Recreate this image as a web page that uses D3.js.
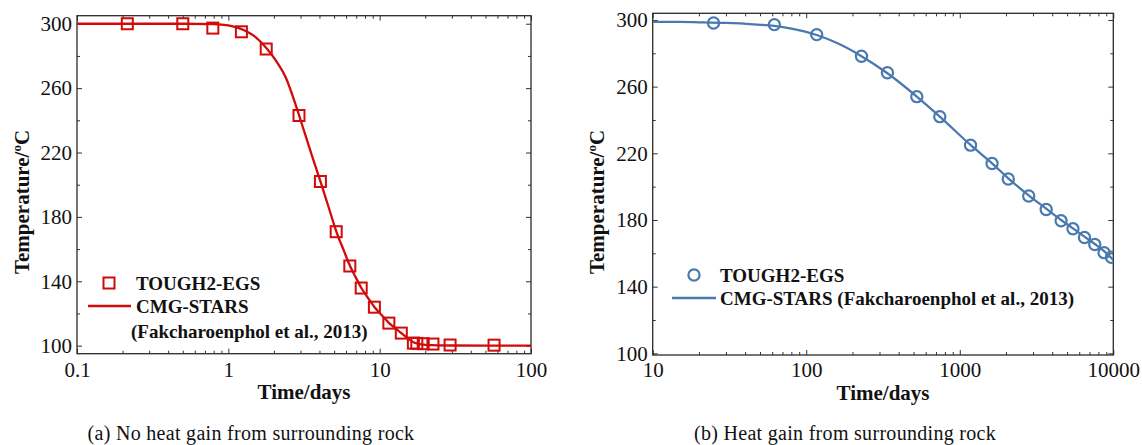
<!DOCTYPE html>
<html>
<head>
<meta charset="utf-8">
<script src="https://cdn.jsdelivr.net/npm/d3@7"></script>
<style>
  html, body { margin: 0; padding: 0; background: #fff; }
  svg { display: block; }
  svg text { font-family: "Liberation Serif", "Times New Roman", serif; fill: #111; }
</style>
</head>
<body>
<svg id="chart" width="1142" height="445"></svg>
<script>
// ---------- Panel (a): No heat gain from surrounding rock ----------
const aToughTime = [0.215, 0.5, 0.79, 1.22, 1.78, 2.93, 4.06, 5.16, 6.35, 7.55, 9.23, 11.5, 13.9, 16.7, 17.6, 19.4, 22.5, 29.2, 57];
const aToughTemp = [300, 300, 297.3, 295, 284.3, 243, 202, 170.8, 149.5, 135.8, 123.9, 114, 107.8, 101.6, 101.4, 101.2, 101, 100.4, 100.3];
const aCmgTime = [0.1, 0.5, 0.8, 1.0, 1.2, 1.5, 1.8, 2.1, 2.4, 2.8, 3.2, 3.6, 4.06, 4.6, 5.16, 5.8, 6.35, 7.0, 7.55, 8.3, 9.2, 10.3, 11.5, 12.6, 13.9, 15.5, 17, 20, 30, 100];
const aCmgTemp = [300, 300, 299.8, 299, 297, 292, 284.5, 276, 266.5, 249, 232, 217, 202, 186, 171.2, 159, 149.8, 141.8, 136, 130.2, 124.2, 119, 114.2, 111, 107.8, 104.2, 101.8, 100.5, 100.1, 100];
const aXTicks = [0.1, 1, 10, 100];
const aXTickLabels = ["0.1", "1", "10", "100"];
const aYTicks = [100, 140, 180, 220, 260, 300];
const aLegend = ["TOUGH2-EGS", "CMG-STARS", "(Fakcharoenphol et al., 2013)"];
const aCaption = "(a) No heat gain from surrounding rock";

// ---------- Panel (b): Heat gain from surrounding rock ----------
const bToughTime = [24.9, 62, 117, 229, 338, 525, 741, 1175, 1623, 2070, 2812, 3655, 4570, 5460, 6490, 7575, 8710, 9730];
const bToughTemp = [298.2, 297.2, 291.2, 278.2, 268.3, 254.0, 242.0, 224.9, 213.9, 204.6, 194.4, 186.3, 179.5, 174.7, 169.5, 165.3, 160.4, 157.6];
const bCmgTime = [10, 15, 20, 30, 45, 62, 80, 117, 160, 229, 338, 525, 741, 1175, 1623, 2070, 2812, 3655, 4570, 5460, 6490, 7575, 8710, 10000];
const bCmgTemp = [298.8, 298.8, 298.6, 298.2, 297.4, 296.4, 294.8, 291, 286, 278.3, 268, 254, 242, 225, 214, 205, 194.8, 186.8, 180, 175, 170, 165.6, 161.3, 156];
const bXTicks = [10, 100, 1000, 10000];
const bXTickLabels = ["10", "100", "1000", "10000"];
const bYTicks = [100, 140, 180, 220, 260, 300];
const bLegend = ["TOUGH2-EGS", "CMG-STARS (Fakcharoenphol et al., 2013)"];
const bCaption = "(b) Heat gain from surrounding rock";

const xTitle = "Time/days";
const FONT = '"Liberation Serif", "Times New Roman", serif';

const svg = d3.select("#chart");

function logMinors(domain) {
  const out = [];
  const lo = Math.round(Math.log10(domain[0])), hi = Math.round(Math.log10(domain[1]));
  for (let e = lo; e < hi; e++) for (let k = 2; k <= 9; k++) out.push(k * Math.pow(10, e));
  return out;
}

function panel(cfg) {
  const g = svg.append("g");
  const x = d3.scaleLog().domain(cfg.xDomain).range([cfg.left, cfg.right]);
  const y = d3.scaleLinear().domain(cfg.yDomain).range([cfg.bottom, cfg.top]);
  const yMinor = d3.range(cfg.yTicks[0] + 20, cfg.yTicks[cfg.yTicks.length - 1], 40);
  const xMinor = logMinors(cfg.xDomain);
  const fmt = d => cfg.xLabels[cfg.xTicks.indexOf(d)];
  const styleText = s => s.selectAll("text").attr("font-size", 21).attr("font-family", FONT).style("fill", "#111");

  // bottom axis
  g.append("g").attr("transform", `translate(0,${cfg.bottom})`).attr("font-family", FONT)
    .call(d3.axisBottom(x).tickValues(cfg.xTicks).tickFormat(fmt).tickSize(-5).tickPadding(cfg.xPad))
    .call(s => s.select(".domain").remove())
    .call(styleText);
  g.append("g").attr("transform", `translate(0,${cfg.bottom})`)
    .call(d3.axisBottom(x).tickValues(xMinor).tickFormat("").tickSize(-3))
    .call(s => s.select(".domain").remove());
  // top axis
  g.append("g").attr("transform", `translate(0,${cfg.top})`)
    .call(d3.axisTop(x).tickValues(cfg.xTicks).tickFormat("").tickSize(-5))
    .call(s => s.select(".domain").remove());
  g.append("g").attr("transform", `translate(0,${cfg.top})`)
    .call(d3.axisTop(x).tickValues(xMinor).tickFormat("").tickSize(-3))
    .call(s => s.select(".domain").remove());
  // left axis
  g.append("g").attr("transform", `translate(${cfg.left},0)`).attr("font-family", FONT)
    .call(d3.axisLeft(y).tickValues(cfg.yTicks).tickFormat(d3.format("d")).tickSize(-5).tickPadding(5))
    .call(s => s.select(".domain").remove())
    .call(styleText);
  g.append("g").attr("transform", `translate(${cfg.left},0)`)
    .call(d3.axisLeft(y).tickValues(yMinor).tickFormat("").tickSize(-3))
    .call(s => s.select(".domain").remove());
  // right axis
  g.append("g").attr("transform", `translate(${cfg.right},0)`)
    .call(d3.axisRight(y).tickValues(cfg.yTicks).tickFormat("").tickSize(-5))
    .call(s => s.select(".domain").remove());
  g.append("g").attr("transform", `translate(${cfg.right},0)`)
    .call(d3.axisRight(y).tickValues(yMinor).tickFormat("").tickSize(-3))
    .call(s => s.select(".domain").remove());
  g.selectAll(".tick line").attr("stroke", "#333").attr("stroke-width", 1);

  // frame
  g.append("rect")
    .attr("x", cfg.left).attr("y", cfg.top)
    .attr("width", cfg.right - cfg.left).attr("height", cfg.bottom - cfg.top)
    .attr("fill", "none").attr("stroke", "#2a2a2a").attr("stroke-width", 1.3);

  // clip
  const clipId = "clip" + cfg.id;
  svg.append("clipPath").attr("id", clipId).append("rect")
    .attr("x", cfg.left).attr("y", cfg.top - 8)
    .attr("width", cfg.right - cfg.left).attr("height", cfg.bottom - cfg.top + 8);

  // line
  const lineData = cfg.cmgTime.map((t, i) => [t, cfg.cmgTemp[i]]);
  g.append("path").datum(lineData)
    .attr("clip-path", `url(#${clipId})`)
    .attr("fill", "none").attr("stroke", cfg.color).attr("stroke-width", 2.3)
    .attr("d", d3.line().x(d => x(d[0])).y(d => y(d[1])).curve(d3.curveMonotoneX));

  // markers
  const ptData = cfg.toughTime.map((t, i) => [t, cfg.toughTemp[i]]);
  const mk = g.append("g").attr("clip-path", `url(#${clipId})`);
  if (cfg.marker === "square") {
    mk.selectAll("rect").data(ptData).join("rect")
      .attr("x", d => x(d[0]) - 5.5).attr("y", d => y(d[1]) - 5.5)
      .attr("width", 11).attr("height", 11)
      .attr("fill", "none").attr("stroke", cfg.color).attr("stroke-width", 2);
  } else {
    mk.selectAll("circle").data(ptData).join("circle")
      .attr("cx", d => x(d[0])).attr("cy", d => y(d[1])).attr("r", 5.6)
      .attr("fill", "none").attr("stroke", cfg.color).attr("stroke-width", 2.2);
  }

  // legend
  const L = cfg.legend;
  if (cfg.marker === "square") {
    g.append("rect").attr("x", L.markX - 5.5).attr("y", L.y1 - 5.5).attr("width", 11).attr("height", 11)
      .attr("fill", "none").attr("stroke", cfg.color).attr("stroke-width", 2);
  } else {
    g.append("circle").attr("cx", L.markX).attr("cy", L.y1).attr("r", 5.6)
      .attr("fill", "none").attr("stroke", cfg.color).attr("stroke-width", 2.2);
  }
  g.append("line").attr("x1", L.lineX1).attr("x2", L.lineX2).attr("y1", L.y2).attr("y2", L.y2)
    .attr("stroke", cfg.color).attr("stroke-width", 2.3);
  cfg.legendText.forEach((s, i) => {
    g.append("text").attr("x", L.textX[i]).attr("y", L.ys[i]).attr("dy", "0.35em")
      .attr("font-size", 19).attr("font-weight", "bold").text(s);
  });

  // axis titles
  g.append("text").attr("x", (cfg.left + cfg.right) / 2).attr("y", cfg.xTitleY)
    .attr("text-anchor", "middle").attr("font-size", 21).attr("font-weight", "bold").text(xTitle);
  const yt = g.append("text")
    .attr("transform", `translate(${cfg.yTitleX},${cfg.yTitleCy}) rotate(-90)`)
    .attr("text-anchor", "middle").attr("font-size", 21).attr("font-weight", "bold");
  yt.append("tspan").text("Temperature/");
  yt.append("tspan").attr("font-size", 13).attr("dy", "-8").text("o");
  yt.append("tspan").attr("dy", "8").text("C");

  // caption
  g.append("text").attr("x", cfg.capX).attr("y", 440).attr("text-anchor", "middle")
    .attr("font-size", 20).attr("letter-spacing", 0.3).text(cfg.caption);
}

panel({
  id: "a", xDomain: [0.1, 100], yDomain: [95, 305],
  left: 77, right: 531, top: 15.7, bottom: 353.7,
  xTicks: aXTicks, xLabels: aXTickLabels, yTicks: aYTicks, xPad: 8,
  toughTime: aToughTime, toughTemp: aToughTemp, cmgTime: aCmgTime, cmgTemp: aCmgTemp,
  color: "#d10a0a", marker: "square",
  legendText: aLegend,
  legend: { markX: 109, lineX1: 88, lineX2: 131, y1: 283, y2: 306, ys: [283, 306, 331], textX: [136, 136, 131] },
  xTitleY: 399, yTitleX: 29, yTitleCy: 202,
  caption: aCaption, capX: 251
});

panel({
  id: "b", xDomain: [10, 10000], yDomain: [99, 304],
  left: 652.7, right: 1113.3, top: 13.3, bottom: 355,
  xTicks: bXTicks, xLabels: bXTickLabels, yTicks: bYTicks, xPad: 7,
  toughTime: bToughTime, toughTemp: bToughTemp, cmgTime: bCmgTime, cmgTemp: bCmgTemp,
  color: "#4a79b0", marker: "circle",
  legendText: bLegend,
  legend: { markX: 694, lineX1: 672, lineX2: 716, y1: 275, y2: 298, ys: [275, 298], textX: [720, 720] },
  xTitleY: 400, yTitleX: 604, yTitleCy: 202,
  caption: bCaption, capX: 845
});
</script>
</body>
</html>
